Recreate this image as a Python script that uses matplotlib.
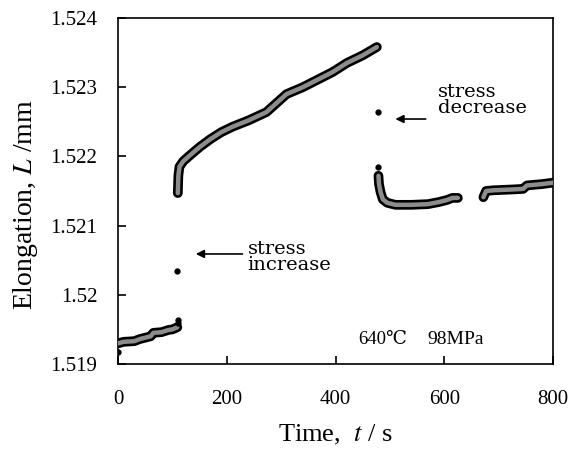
import matplotlib
matplotlib.use("Agg")
import matplotlib.pyplot as plt
import matplotlib.patheffects as pe

# time (s) and elongation (mm), one list per run of data
t1 = [1, 10, 30, 40, 50, 60, 65, 80, 92, 100, 109]
L1 = [1.51930, 1.51932, 1.51933, 1.51936, 1.51938, 1.51940, 1.51945, 1.51946, 1.51949, 1.51950, 1.51953]

t2 = [110, 110.5, 111, 113, 120, 130, 151, 170, 190, 211, 240, 273, 290, 310, 340, 365, 395, 421, 450, 476]
L2 = [1.52147, 1.52160, 1.52172, 1.52185, 1.52193, 1.52200, 1.52214, 1.52225, 1.52235, 1.52243,
      1.52252, 1.52264, 1.52276, 1.52290, 1.52300, 1.52310, 1.52322, 1.52335, 1.52346, 1.52358]

t3 = [479, 480, 483, 487, 495, 510, 540, 570, 590, 605, 615, 625]
L3 = [1.52172, 1.52160, 1.52148, 1.52138, 1.52133, 1.52130, 1.52130, 1.52131, 1.52134, 1.52137, 1.52140, 1.52140]

t4 = [672, 677, 690, 720, 745, 752, 780, 800]
L4 = [1.52141, 1.52150, 1.52151, 1.52152, 1.52153, 1.52158, 1.52160, 1.52162]

# isolated points
t_pts = [0, 110, 110, 109, 478, 478]
L_pts = [1.51918, 1.51964, 1.51959, 1.52034, 1.52264, 1.52185]

xticks = [0, 200, 400, 600, 800]
yticks = [1.519, 1.52, 1.521, 1.522, 1.523, 1.524]
ytick_labels = ["1.519", "1.52", "1.521", "1.522", "1.523", "1.524"]

serif = ["Liberation Serif", "DejaVu Serif"]
plt.rcParams["mathtext.fontset"] = "stix"

fig = plt.figure(figsize=(5.74, 4.53), dpi=100)
plt.subplots_adjust(left=0.2056, right=0.9634, bottom=0.1965, top=0.9603)
ax = plt.subplot(111)

# dense markers in the original look like a grey band with black outline
band = [pe.Stroke(linewidth=7, foreground="black"), pe.Normal()]
for t, L in [(t1, L1), (t2, L2), (t3, L3), (t4, L4)]:
    ax.plot(t, L, color="#8c8c8c", lw=3.2, solid_capstyle="round",
            path_effects=band, zorder=3)
ax.plot(t_pts, L_pts, "o", color="black", ms=3.5, zorder=4)

ax.set_xlim(0, 800)
ax.set_ylim(1.519, 1.524)
ax.set_xticks(xticks)
ax.set_yticks(yticks)
ax.set_yticklabels(ytick_labels)
ax.tick_params(direction="in", length=6, width=1.2, labelsize=15)
ax.tick_params(axis="x", pad=19)
ax.tick_params(axis="y", pad=15)
for lab in ax.get_xticklabels() + ax.get_yticklabels():
    lab.set_family(serif)
for s in ax.spines.values():
    s.set_linewidth(1.2)

ax.set_xlabel("Time,  $\\mathit{t}$ / s", fontsize=19, family=serif, labelpad=10)
ax.set_ylabel("Elongation, $\\mathit{L}$ /mm", fontsize=20, family=serif)
ax.yaxis.set_label_coords(-0.18, 0.461)

# annotations
ax.annotate("", xy=(138, 1.52059), xytext=(234, 1.52059),
            arrowprops=dict(arrowstyle="-|>", color="black", lw=1.2, mutation_scale=12))
ax.text(238, 1.52054, "stress\nincrease", fontsize=14, family="DejaVu Serif",
        ha="left", va="center", linespacing=0.85)
ax.annotate("", xy=(505, 1.52254), xytext=(571, 1.52254),
            arrowprops=dict(arrowstyle="-|>", color="black", lw=1.2, mutation_scale=12))
ax.text(588, 1.52281, "stress\ndecrease", fontsize=14, family="DejaVu Serif",
        ha="left", va="center", linespacing=0.85)

ax.text(442, 1.51935, "640℃", fontsize=13.5, family=serif, ha="left", va="center")
ax.text(569, 1.51935, "98MPa", fontsize=14, family=serif, ha="left", va="center")

plt.savefig("out.png", dpi=100)
